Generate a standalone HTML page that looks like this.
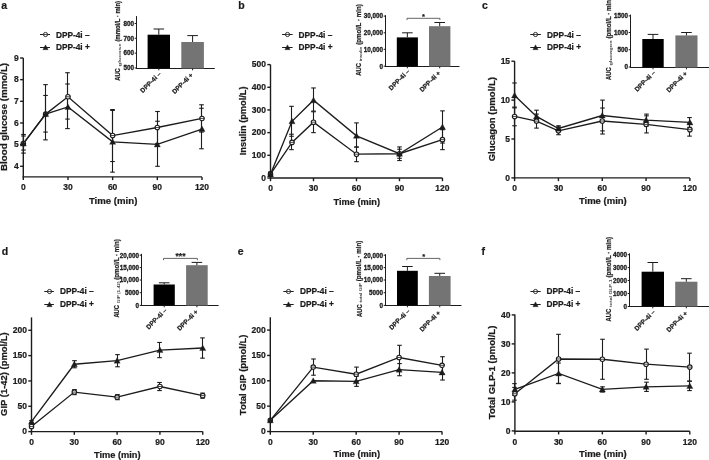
<!DOCTYPE html>
<html><head><meta charset="utf-8"><style>
html,body{margin:0;padding:0;background:#fff;overflow:hidden}
svg{display:block;will-change:transform}
text{font-family:"Liberation Sans", sans-serif;stroke:#1c1c1c;stroke-width:0.22px;paint-order:fill}
</style></head><body>
<svg width="709" height="460" viewBox="0 0 709 460" font-family='"Liberation Sans", sans-serif'>
<rect width="709" height="460" fill="#fff"/>
<line x1="23.3" y1="58" x2="23.3" y2="177.55" stroke="#1c1c1c" stroke-width="1.4"/>
<line x1="22.65" y1="176.9" x2="201.98" y2="176.9" stroke="#1c1c1c" stroke-width="1.4"/>
<line x1="20.1" y1="166.3" x2="23.3" y2="166.3" stroke="#1c1c1c" stroke-width="1.4"/>
<text x="18.8" y="169" font-size="8.5" text-anchor="end" font-weight="bold" fill="#1c1c1c">4</text>
<line x1="20.1" y1="144.64" x2="23.3" y2="144.64" stroke="#1c1c1c" stroke-width="1.4"/>
<text x="18.8" y="147.34" font-size="8.5" text-anchor="end" font-weight="bold" fill="#1c1c1c">5</text>
<line x1="20.1" y1="122.98" x2="23.3" y2="122.98" stroke="#1c1c1c" stroke-width="1.4"/>
<text x="18.8" y="125.68" font-size="8.5" text-anchor="end" font-weight="bold" fill="#1c1c1c">6</text>
<line x1="20.1" y1="101.32" x2="23.3" y2="101.32" stroke="#1c1c1c" stroke-width="1.4"/>
<text x="18.8" y="104.02" font-size="8.5" text-anchor="end" font-weight="bold" fill="#1c1c1c">7</text>
<line x1="20.1" y1="79.66" x2="23.3" y2="79.66" stroke="#1c1c1c" stroke-width="1.4"/>
<text x="18.8" y="82.36" font-size="8.5" text-anchor="end" font-weight="bold" fill="#1c1c1c">8</text>
<line x1="20.1" y1="58" x2="23.3" y2="58" stroke="#1c1c1c" stroke-width="1.4"/>
<text x="18.8" y="60.7" font-size="8.5" text-anchor="end" font-weight="bold" fill="#1c1c1c">9</text>
<line x1="23.3" y1="176.9" x2="23.3" y2="180.1" stroke="#1c1c1c" stroke-width="1.4"/>
<text x="23.3" y="190.3" font-size="8.5" text-anchor="middle" font-weight="bold" fill="#1c1c1c">0</text>
<line x1="67.97" y1="176.9" x2="67.97" y2="180.1" stroke="#1c1c1c" stroke-width="1.4"/>
<text x="67.97" y="190.3" font-size="8.5" text-anchor="middle" font-weight="bold" fill="#1c1c1c">30</text>
<line x1="112.64" y1="176.9" x2="112.64" y2="180.1" stroke="#1c1c1c" stroke-width="1.4"/>
<text x="112.64" y="190.3" font-size="8.5" text-anchor="middle" font-weight="bold" fill="#1c1c1c">60</text>
<line x1="157.31" y1="176.9" x2="157.31" y2="180.1" stroke="#1c1c1c" stroke-width="1.4"/>
<text x="157.31" y="190.3" font-size="8.5" text-anchor="middle" font-weight="bold" fill="#1c1c1c">90</text>
<line x1="201.98" y1="176.9" x2="201.98" y2="180.1" stroke="#1c1c1c" stroke-width="1.4"/>
<text x="201.98" y="190.3" font-size="8.5" text-anchor="middle" font-weight="bold" fill="#1c1c1c">120</text>
<text x="88.9" y="204.1" font-size="8.8" text-anchor="start" font-weight="bold" fill="#1c1c1c" textLength="48.5" lengthAdjust="spacingAndGlyphs">Time (min)</text>
<text x="7.2" y="116.9" font-size="8.6" text-anchor="middle" font-weight="bold" fill="#1c1c1c" transform="rotate(-90 7.2 116.9)" textLength="108" lengthAdjust="spacingAndGlyphs">Blood glucose (mmo/L)</text>
<text x="1.2" y="9.4" font-size="10.5" text-anchor="start" font-weight="bold" fill="#1c1c1c">a</text>
<polyline points="23.3,143.56 45.64,114.1 67.97,96.77 112.64,135.54 157.31,127.53 201.98,118.43" fill="none" stroke="#1c1c1c" stroke-width="1.35" stroke-linejoin="miter"/>
<polyline points="23.3,143.56 45.64,114.1 67.97,106.95 112.64,141.82 157.31,144.42 201.98,129.04" fill="none" stroke="#1c1c1c" stroke-width="1.35" stroke-linejoin="miter"/>
<line x1="23.5" y1="134.46" x2="23.5" y2="153.09" stroke="#1c1c1c" stroke-width="1.1"/>
<line x1="21.2" y1="134.46" x2="25.8" y2="134.46" stroke="#1c1c1c" stroke-width="1.1"/>
<line x1="21.2" y1="153.09" x2="25.8" y2="153.09" stroke="#1c1c1c" stroke-width="1.1"/>
<line x1="45.5" y1="84.64" x2="45.5" y2="139.87" stroke="#1c1c1c" stroke-width="1.1"/>
<line x1="43.2" y1="84.64" x2="47.8" y2="84.64" stroke="#1c1c1c" stroke-width="1.1"/>
<line x1="43.2" y1="139.87" x2="47.8" y2="139.87" stroke="#1c1c1c" stroke-width="1.1"/>
<line x1="67.5" y1="72.73" x2="67.5" y2="119.08" stroke="#1c1c1c" stroke-width="1.1"/>
<line x1="65.2" y1="72.73" x2="69.8" y2="72.73" stroke="#1c1c1c" stroke-width="1.1"/>
<line x1="65.2" y1="119.08" x2="69.8" y2="119.08" stroke="#1c1c1c" stroke-width="1.1"/>
<line x1="112.5" y1="109.55" x2="112.5" y2="161.53" stroke="#1c1c1c" stroke-width="1.1"/>
<line x1="110.2" y1="109.55" x2="114.8" y2="109.55" stroke="#1c1c1c" stroke-width="1.1"/>
<line x1="110.2" y1="161.53" x2="114.8" y2="161.53" stroke="#1c1c1c" stroke-width="1.1"/>
<line x1="157.5" y1="111.5" x2="157.5" y2="143.56" stroke="#1c1c1c" stroke-width="1.1"/>
<line x1="155.2" y1="111.5" x2="159.8" y2="111.5" stroke="#1c1c1c" stroke-width="1.1"/>
<line x1="155.2" y1="143.56" x2="159.8" y2="143.56" stroke="#1c1c1c" stroke-width="1.1"/>
<line x1="201.5" y1="104.79" x2="201.5" y2="132.08" stroke="#1c1c1c" stroke-width="1.1"/>
<line x1="199.2" y1="104.79" x2="203.8" y2="104.79" stroke="#1c1c1c" stroke-width="1.1"/>
<line x1="199.2" y1="132.08" x2="203.8" y2="132.08" stroke="#1c1c1c" stroke-width="1.1"/>
<line x1="23.5" y1="135.98" x2="23.5" y2="150.06" stroke="#1c1c1c" stroke-width="1.1"/>
<line x1="21.2" y1="135.98" x2="25.8" y2="135.98" stroke="#1c1c1c" stroke-width="1.1"/>
<line x1="21.2" y1="150.06" x2="25.8" y2="150.06" stroke="#1c1c1c" stroke-width="1.1"/>
<line x1="45.5" y1="95.47" x2="45.5" y2="132.08" stroke="#1c1c1c" stroke-width="1.1"/>
<line x1="43.2" y1="95.47" x2="47.8" y2="95.47" stroke="#1c1c1c" stroke-width="1.1"/>
<line x1="43.2" y1="132.08" x2="47.8" y2="132.08" stroke="#1c1c1c" stroke-width="1.1"/>
<line x1="67.5" y1="83.99" x2="67.5" y2="128.61" stroke="#1c1c1c" stroke-width="1.1"/>
<line x1="65.2" y1="83.99" x2="69.8" y2="83.99" stroke="#1c1c1c" stroke-width="1.1"/>
<line x1="65.2" y1="128.61" x2="69.8" y2="128.61" stroke="#1c1c1c" stroke-width="1.1"/>
<line x1="112.5" y1="110.42" x2="112.5" y2="172.15" stroke="#1c1c1c" stroke-width="1.1"/>
<line x1="110.2" y1="110.42" x2="114.8" y2="110.42" stroke="#1c1c1c" stroke-width="1.1"/>
<line x1="110.2" y1="172.15" x2="114.8" y2="172.15" stroke="#1c1c1c" stroke-width="1.1"/>
<line x1="157.5" y1="121.25" x2="157.5" y2="166.3" stroke="#1c1c1c" stroke-width="1.1"/>
<line x1="155.2" y1="121.25" x2="159.8" y2="121.25" stroke="#1c1c1c" stroke-width="1.1"/>
<line x1="155.2" y1="166.3" x2="159.8" y2="166.3" stroke="#1c1c1c" stroke-width="1.1"/>
<line x1="201.5" y1="108.25" x2="201.5" y2="148.76" stroke="#1c1c1c" stroke-width="1.1"/>
<line x1="199.2" y1="108.25" x2="203.8" y2="108.25" stroke="#1c1c1c" stroke-width="1.1"/>
<line x1="199.2" y1="148.76" x2="203.8" y2="148.76" stroke="#1c1c1c" stroke-width="1.1"/>
<circle cx="23.3" cy="143.56" r="2.25" fill="#fff" stroke="#1c1c1c" stroke-width="1.1"/>
<line x1="21.05" y1="143.56" x2="25.55" y2="143.56" stroke="#1c1c1c" stroke-width="0.8"/>
<circle cx="45.64" cy="114.1" r="2.25" fill="#fff" stroke="#1c1c1c" stroke-width="1.1"/>
<line x1="43.39" y1="114.1" x2="47.89" y2="114.1" stroke="#1c1c1c" stroke-width="0.8"/>
<circle cx="67.97" cy="96.77" r="2.25" fill="#fff" stroke="#1c1c1c" stroke-width="1.1"/>
<line x1="65.72" y1="96.77" x2="70.22" y2="96.77" stroke="#1c1c1c" stroke-width="0.8"/>
<circle cx="112.64" cy="135.54" r="2.25" fill="#fff" stroke="#1c1c1c" stroke-width="1.1"/>
<line x1="110.39" y1="135.54" x2="114.89" y2="135.54" stroke="#1c1c1c" stroke-width="0.8"/>
<circle cx="157.31" cy="127.53" r="2.25" fill="#fff" stroke="#1c1c1c" stroke-width="1.1"/>
<line x1="155.06" y1="127.53" x2="159.56" y2="127.53" stroke="#1c1c1c" stroke-width="0.8"/>
<circle cx="201.98" cy="118.43" r="2.25" fill="#fff" stroke="#1c1c1c" stroke-width="1.1"/>
<line x1="199.73" y1="118.43" x2="204.23" y2="118.43" stroke="#1c1c1c" stroke-width="0.8"/>
<polygon points="23.3,140.49 20.2,146.07 26.4,146.07" fill="#1c1c1c" stroke="#1c1c1c" stroke-width="0.3"/>
<polygon points="45.64,111.03 42.54,116.61 48.74,116.61" fill="#1c1c1c" stroke="#1c1c1c" stroke-width="0.3"/>
<polygon points="67.97,103.88 64.87,109.46 71.07,109.46" fill="#1c1c1c" stroke="#1c1c1c" stroke-width="0.3"/>
<polygon points="112.64,138.76 109.54,144.34 115.74,144.34" fill="#1c1c1c" stroke="#1c1c1c" stroke-width="0.3"/>
<polygon points="157.31,141.35 154.21,146.93 160.41,146.93" fill="#1c1c1c" stroke="#1c1c1c" stroke-width="0.3"/>
<polygon points="201.98,125.98 198.88,131.56 205.08,131.56" fill="#1c1c1c" stroke="#1c1c1c" stroke-width="0.3"/>
<line x1="40" y1="34.5" x2="50" y2="34.5" stroke="#1c1c1c" stroke-width="1"/>
<circle cx="45.5" cy="34.5" r="2.1" fill="#fff" stroke="#1c1c1c" stroke-width="0.9"/>
<line x1="43.4" y1="34.5" x2="47.6" y2="34.5" stroke="#1c1c1c" stroke-width="0.8"/>
<line x1="40" y1="47.5" x2="50" y2="47.5" stroke="#1c1c1c" stroke-width="1"/>
<polygon points="45.5,44.83 42.8,49.69 48.2,49.69" fill="#1c1c1c" stroke="#1c1c1c" stroke-width="0.3"/>
<text x="55.9" y="37.9" font-size="8.3" text-anchor="start" font-weight="bold" fill="#1c1c1c">DPP-4i –</text>
<text x="55.9" y="50.3" font-size="8.3" text-anchor="start" font-weight="bold" fill="#1c1c1c">DPP-4i +</text>
<line x1="270.5" y1="64.6" x2="270.5" y2="178.65" stroke="#1c1c1c" stroke-width="1.4"/>
<line x1="269.85" y1="178" x2="442.46" y2="178" stroke="#1c1c1c" stroke-width="1.4"/>
<line x1="267.3" y1="178" x2="270.5" y2="178" stroke="#1c1c1c" stroke-width="1.4"/>
<text x="266" y="180.7" font-size="8.5" text-anchor="end" font-weight="bold" fill="#1c1c1c">0</text>
<line x1="267.3" y1="155.32" x2="270.5" y2="155.32" stroke="#1c1c1c" stroke-width="1.4"/>
<text x="266" y="158.02" font-size="8.5" text-anchor="end" font-weight="bold" fill="#1c1c1c">100</text>
<line x1="267.3" y1="132.64" x2="270.5" y2="132.64" stroke="#1c1c1c" stroke-width="1.4"/>
<text x="266" y="135.34" font-size="8.5" text-anchor="end" font-weight="bold" fill="#1c1c1c">200</text>
<line x1="267.3" y1="109.96" x2="270.5" y2="109.96" stroke="#1c1c1c" stroke-width="1.4"/>
<text x="266" y="112.66" font-size="8.5" text-anchor="end" font-weight="bold" fill="#1c1c1c">300</text>
<line x1="267.3" y1="87.28" x2="270.5" y2="87.28" stroke="#1c1c1c" stroke-width="1.4"/>
<text x="266" y="89.98" font-size="8.5" text-anchor="end" font-weight="bold" fill="#1c1c1c">400</text>
<line x1="267.3" y1="64.6" x2="270.5" y2="64.6" stroke="#1c1c1c" stroke-width="1.4"/>
<text x="266" y="67.3" font-size="8.5" text-anchor="end" font-weight="bold" fill="#1c1c1c">500</text>
<line x1="270.5" y1="178" x2="270.5" y2="181.2" stroke="#1c1c1c" stroke-width="1.4"/>
<text x="270.5" y="190.9" font-size="8.5" text-anchor="middle" font-weight="bold" fill="#1c1c1c">0</text>
<line x1="313.49" y1="178" x2="313.49" y2="181.2" stroke="#1c1c1c" stroke-width="1.4"/>
<text x="313.49" y="190.9" font-size="8.5" text-anchor="middle" font-weight="bold" fill="#1c1c1c">30</text>
<line x1="356.48" y1="178" x2="356.48" y2="181.2" stroke="#1c1c1c" stroke-width="1.4"/>
<text x="356.48" y="190.9" font-size="8.5" text-anchor="middle" font-weight="bold" fill="#1c1c1c">60</text>
<line x1="399.47" y1="178" x2="399.47" y2="181.2" stroke="#1c1c1c" stroke-width="1.4"/>
<text x="399.47" y="190.9" font-size="8.5" text-anchor="middle" font-weight="bold" fill="#1c1c1c">90</text>
<line x1="442.46" y1="178" x2="442.46" y2="181.2" stroke="#1c1c1c" stroke-width="1.4"/>
<text x="442.46" y="190.9" font-size="8.5" text-anchor="middle" font-weight="bold" fill="#1c1c1c">120</text>
<text x="333.5" y="204.5" font-size="8.8" text-anchor="start" font-weight="bold" fill="#1c1c1c" textLength="46.6" lengthAdjust="spacingAndGlyphs">Time (min)</text>
<text x="246.1" y="120.8" font-size="8.6" text-anchor="middle" font-weight="bold" fill="#1c1c1c" transform="rotate(-90 246.1 120.8)" textLength="68.8" lengthAdjust="spacingAndGlyphs">Insulin (pmol/L)</text>
<text x="238.3" y="8.8" font-size="10.5" text-anchor="start" font-weight="bold" fill="#1c1c1c">b</text>
<polyline points="270.5,174.14 292,142.39 313.49,122.21 356.48,154.19 399.47,153.73 442.46,139.67" fill="none" stroke="#1c1c1c" stroke-width="1.35" stroke-linejoin="miter"/>
<polyline points="270.5,174.14 292,121.3 313.49,100.21 356.48,135.82 399.47,153.73 442.46,126.97" fill="none" stroke="#1c1c1c" stroke-width="1.35" stroke-linejoin="miter"/>
<line x1="270.5" y1="172.1" x2="270.5" y2="176.19" stroke="#1c1c1c" stroke-width="1.1"/>
<line x1="268.2" y1="172.1" x2="272.8" y2="172.1" stroke="#1c1c1c" stroke-width="1.1"/>
<line x1="268.2" y1="176.19" x2="272.8" y2="176.19" stroke="#1c1c1c" stroke-width="1.1"/>
<line x1="291.5" y1="134.23" x2="291.5" y2="149.65" stroke="#1c1c1c" stroke-width="1.1"/>
<line x1="289.2" y1="134.23" x2="293.8" y2="134.23" stroke="#1c1c1c" stroke-width="1.1"/>
<line x1="289.2" y1="149.65" x2="293.8" y2="149.65" stroke="#1c1c1c" stroke-width="1.1"/>
<line x1="313.5" y1="111.77" x2="313.5" y2="132.64" stroke="#1c1c1c" stroke-width="1.1"/>
<line x1="311.2" y1="111.77" x2="315.8" y2="111.77" stroke="#1c1c1c" stroke-width="1.1"/>
<line x1="311.2" y1="132.64" x2="315.8" y2="132.64" stroke="#1c1c1c" stroke-width="1.1"/>
<line x1="356.5" y1="146.93" x2="356.5" y2="161.67" stroke="#1c1c1c" stroke-width="1.1"/>
<line x1="354.2" y1="146.93" x2="358.8" y2="146.93" stroke="#1c1c1c" stroke-width="1.1"/>
<line x1="354.2" y1="161.67" x2="358.8" y2="161.67" stroke="#1c1c1c" stroke-width="1.1"/>
<line x1="399.5" y1="149.2" x2="399.5" y2="158.27" stroke="#1c1c1c" stroke-width="1.1"/>
<line x1="397.2" y1="149.2" x2="401.8" y2="149.2" stroke="#1c1c1c" stroke-width="1.1"/>
<line x1="397.2" y1="158.27" x2="401.8" y2="158.27" stroke="#1c1c1c" stroke-width="1.1"/>
<line x1="442.5" y1="129.69" x2="442.5" y2="149.65" stroke="#1c1c1c" stroke-width="1.1"/>
<line x1="440.2" y1="129.69" x2="444.8" y2="129.69" stroke="#1c1c1c" stroke-width="1.1"/>
<line x1="440.2" y1="149.65" x2="444.8" y2="149.65" stroke="#1c1c1c" stroke-width="1.1"/>
<line x1="270.5" y1="172.1" x2="270.5" y2="176.19" stroke="#1c1c1c" stroke-width="1.1"/>
<line x1="268.2" y1="172.1" x2="272.8" y2="172.1" stroke="#1c1c1c" stroke-width="1.1"/>
<line x1="268.2" y1="176.19" x2="272.8" y2="176.19" stroke="#1c1c1c" stroke-width="1.1"/>
<line x1="291.5" y1="106.33" x2="291.5" y2="136.27" stroke="#1c1c1c" stroke-width="1.1"/>
<line x1="289.2" y1="106.33" x2="293.8" y2="106.33" stroke="#1c1c1c" stroke-width="1.1"/>
<line x1="289.2" y1="136.27" x2="293.8" y2="136.27" stroke="#1c1c1c" stroke-width="1.1"/>
<line x1="313.5" y1="87.96" x2="313.5" y2="111.09" stroke="#1c1c1c" stroke-width="1.1"/>
<line x1="311.2" y1="87.96" x2="315.8" y2="87.96" stroke="#1c1c1c" stroke-width="1.1"/>
<line x1="311.2" y1="111.09" x2="315.8" y2="111.09" stroke="#1c1c1c" stroke-width="1.1"/>
<line x1="356.5" y1="122.89" x2="356.5" y2="147.16" stroke="#1c1c1c" stroke-width="1.1"/>
<line x1="354.2" y1="122.89" x2="358.8" y2="122.89" stroke="#1c1c1c" stroke-width="1.1"/>
<line x1="354.2" y1="147.16" x2="358.8" y2="147.16" stroke="#1c1c1c" stroke-width="1.1"/>
<line x1="399.5" y1="146.93" x2="399.5" y2="160.54" stroke="#1c1c1c" stroke-width="1.1"/>
<line x1="397.2" y1="146.93" x2="401.8" y2="146.93" stroke="#1c1c1c" stroke-width="1.1"/>
<line x1="397.2" y1="160.54" x2="401.8" y2="160.54" stroke="#1c1c1c" stroke-width="1.1"/>
<line x1="442.5" y1="110.87" x2="442.5" y2="143.07" stroke="#1c1c1c" stroke-width="1.1"/>
<line x1="440.2" y1="110.87" x2="444.8" y2="110.87" stroke="#1c1c1c" stroke-width="1.1"/>
<line x1="440.2" y1="143.07" x2="444.8" y2="143.07" stroke="#1c1c1c" stroke-width="1.1"/>
<circle cx="270.5" cy="174.14" r="2.25" fill="#fff" stroke="#1c1c1c" stroke-width="1.1"/>
<line x1="268.25" y1="174.14" x2="272.75" y2="174.14" stroke="#1c1c1c" stroke-width="0.8"/>
<circle cx="292" cy="142.39" r="2.25" fill="#fff" stroke="#1c1c1c" stroke-width="1.1"/>
<line x1="289.75" y1="142.39" x2="294.25" y2="142.39" stroke="#1c1c1c" stroke-width="0.8"/>
<circle cx="313.49" cy="122.21" r="2.25" fill="#fff" stroke="#1c1c1c" stroke-width="1.1"/>
<line x1="311.24" y1="122.21" x2="315.74" y2="122.21" stroke="#1c1c1c" stroke-width="0.8"/>
<circle cx="356.48" cy="154.19" r="2.25" fill="#fff" stroke="#1c1c1c" stroke-width="1.1"/>
<line x1="354.23" y1="154.19" x2="358.73" y2="154.19" stroke="#1c1c1c" stroke-width="0.8"/>
<circle cx="399.47" cy="153.73" r="2.25" fill="#fff" stroke="#1c1c1c" stroke-width="1.1"/>
<line x1="397.22" y1="153.73" x2="401.72" y2="153.73" stroke="#1c1c1c" stroke-width="0.8"/>
<circle cx="442.46" cy="139.67" r="2.25" fill="#fff" stroke="#1c1c1c" stroke-width="1.1"/>
<line x1="440.21" y1="139.67" x2="444.71" y2="139.67" stroke="#1c1c1c" stroke-width="0.8"/>
<polygon points="270.5,171.08 267.4,176.66 273.6,176.66" fill="#1c1c1c" stroke="#1c1c1c" stroke-width="0.3"/>
<polygon points="292,118.23 288.89,123.81 295.1,123.81" fill="#1c1c1c" stroke="#1c1c1c" stroke-width="0.3"/>
<polygon points="313.49,97.14 310.39,102.72 316.59,102.72" fill="#1c1c1c" stroke="#1c1c1c" stroke-width="0.3"/>
<polygon points="356.48,132.75 353.38,138.33 359.58,138.33" fill="#1c1c1c" stroke="#1c1c1c" stroke-width="0.3"/>
<polygon points="399.47,150.66 396.37,156.24 402.57,156.24" fill="#1c1c1c" stroke="#1c1c1c" stroke-width="0.3"/>
<polygon points="442.46,123.9 439.36,129.48 445.56,129.48" fill="#1c1c1c" stroke="#1c1c1c" stroke-width="0.3"/>
<line x1="282.1" y1="34.5" x2="292.6" y2="34.5" stroke="#1c1c1c" stroke-width="1"/>
<circle cx="287.5" cy="34.5" r="2.1" fill="#fff" stroke="#1c1c1c" stroke-width="0.9"/>
<line x1="285.4" y1="34.5" x2="289.6" y2="34.5" stroke="#1c1c1c" stroke-width="0.8"/>
<line x1="282.1" y1="47.5" x2="292.6" y2="47.5" stroke="#1c1c1c" stroke-width="1"/>
<polygon points="287.5,44.83 284.8,49.69 290.2,49.69" fill="#1c1c1c" stroke="#1c1c1c" stroke-width="0.3"/>
<text x="298.6" y="37.9" font-size="8.3" text-anchor="start" font-weight="bold" fill="#1c1c1c">DPP-4i –</text>
<text x="298.6" y="50.2" font-size="8.3" text-anchor="start" font-weight="bold" fill="#1c1c1c">DPP-4i +</text>
<line x1="514.6" y1="61.1" x2="514.6" y2="178.55" stroke="#1c1c1c" stroke-width="1.4"/>
<line x1="513.95" y1="177.9" x2="689.9" y2="177.9" stroke="#1c1c1c" stroke-width="1.4"/>
<line x1="511.4" y1="177.9" x2="514.6" y2="177.9" stroke="#1c1c1c" stroke-width="1.4"/>
<text x="510.1" y="180.6" font-size="8.5" text-anchor="end" font-weight="bold" fill="#1c1c1c">0</text>
<line x1="511.4" y1="139" x2="514.6" y2="139" stroke="#1c1c1c" stroke-width="1.4"/>
<text x="510.1" y="141.7" font-size="8.5" text-anchor="end" font-weight="bold" fill="#1c1c1c">5</text>
<line x1="511.4" y1="100.1" x2="514.6" y2="100.1" stroke="#1c1c1c" stroke-width="1.4"/>
<text x="510.1" y="102.8" font-size="8.5" text-anchor="end" font-weight="bold" fill="#1c1c1c">10</text>
<line x1="511.4" y1="61.2" x2="514.6" y2="61.2" stroke="#1c1c1c" stroke-width="1.4"/>
<text x="510.1" y="63.9" font-size="8.5" text-anchor="end" font-weight="bold" fill="#1c1c1c">15</text>
<line x1="514.6" y1="177.9" x2="514.6" y2="181.1" stroke="#1c1c1c" stroke-width="1.4"/>
<text x="514.6" y="190.9" font-size="8.5" text-anchor="middle" font-weight="bold" fill="#1c1c1c">0</text>
<line x1="558.42" y1="177.9" x2="558.42" y2="181.1" stroke="#1c1c1c" stroke-width="1.4"/>
<text x="558.42" y="190.9" font-size="8.5" text-anchor="middle" font-weight="bold" fill="#1c1c1c">30</text>
<line x1="602.25" y1="177.9" x2="602.25" y2="181.1" stroke="#1c1c1c" stroke-width="1.4"/>
<text x="602.25" y="190.9" font-size="8.5" text-anchor="middle" font-weight="bold" fill="#1c1c1c">60</text>
<line x1="646.07" y1="177.9" x2="646.07" y2="181.1" stroke="#1c1c1c" stroke-width="1.4"/>
<text x="646.07" y="190.9" font-size="8.5" text-anchor="middle" font-weight="bold" fill="#1c1c1c">90</text>
<line x1="689.9" y1="177.9" x2="689.9" y2="181.1" stroke="#1c1c1c" stroke-width="1.4"/>
<text x="689.9" y="190.9" font-size="8.5" text-anchor="middle" font-weight="bold" fill="#1c1c1c">120</text>
<text x="578.9" y="204.2" font-size="8.8" text-anchor="start" font-weight="bold" fill="#1c1c1c" textLength="47.9" lengthAdjust="spacingAndGlyphs">Time (min)</text>
<text x="494.6" y="119.15" font-size="8.6" text-anchor="middle" font-weight="bold" fill="#1c1c1c" transform="rotate(-90 494.6 119.15)" textLength="84.3" lengthAdjust="spacingAndGlyphs">Glucagon (pmol/L)</text>
<text x="482" y="9.2" font-size="10.5" text-anchor="start" font-weight="bold" fill="#1c1c1c">c</text>
<polyline points="514.6,116.44 536.51,121.11 558.42,130.83 602.25,121.03 646.07,124.37 689.9,129.66" fill="none" stroke="#1c1c1c" stroke-width="1.35" stroke-linejoin="miter"/>
<polyline points="514.6,95.43 536.51,116.44 558.42,128.5 602.25,115.5 646.07,120.09 689.9,122.43" fill="none" stroke="#1c1c1c" stroke-width="1.35" stroke-linejoin="miter"/>
<line x1="514.5" y1="107.1" x2="514.5" y2="125.77" stroke="#1c1c1c" stroke-width="1.1"/>
<line x1="512.2" y1="107.1" x2="516.8" y2="107.1" stroke="#1c1c1c" stroke-width="1.1"/>
<line x1="512.2" y1="125.77" x2="516.8" y2="125.77" stroke="#1c1c1c" stroke-width="1.1"/>
<line x1="536.5" y1="114.1" x2="536.5" y2="128.11" stroke="#1c1c1c" stroke-width="1.1"/>
<line x1="534.2" y1="114.1" x2="538.8" y2="114.1" stroke="#1c1c1c" stroke-width="1.1"/>
<line x1="534.2" y1="128.11" x2="538.8" y2="128.11" stroke="#1c1c1c" stroke-width="1.1"/>
<line x1="558.5" y1="126.94" x2="558.5" y2="134.72" stroke="#1c1c1c" stroke-width="1.1"/>
<line x1="556.2" y1="126.94" x2="560.8" y2="126.94" stroke="#1c1c1c" stroke-width="1.1"/>
<line x1="556.2" y1="134.72" x2="560.8" y2="134.72" stroke="#1c1c1c" stroke-width="1.1"/>
<line x1="602.5" y1="108.04" x2="602.5" y2="134.02" stroke="#1c1c1c" stroke-width="1.1"/>
<line x1="600.2" y1="108.04" x2="604.8" y2="108.04" stroke="#1c1c1c" stroke-width="1.1"/>
<line x1="600.2" y1="134.02" x2="604.8" y2="134.02" stroke="#1c1c1c" stroke-width="1.1"/>
<line x1="646.5" y1="115.82" x2="646.5" y2="132.93" stroke="#1c1c1c" stroke-width="1.1"/>
<line x1="644.2" y1="115.82" x2="648.8" y2="115.82" stroke="#1c1c1c" stroke-width="1.1"/>
<line x1="644.2" y1="132.93" x2="648.8" y2="132.93" stroke="#1c1c1c" stroke-width="1.1"/>
<line x1="689.5" y1="123.21" x2="689.5" y2="136.12" stroke="#1c1c1c" stroke-width="1.1"/>
<line x1="687.2" y1="123.21" x2="691.8" y2="123.21" stroke="#1c1c1c" stroke-width="1.1"/>
<line x1="687.2" y1="136.12" x2="691.8" y2="136.12" stroke="#1c1c1c" stroke-width="1.1"/>
<line x1="514.5" y1="82.98" x2="514.5" y2="107.88" stroke="#1c1c1c" stroke-width="1.1"/>
<line x1="512.2" y1="82.98" x2="516.8" y2="82.98" stroke="#1c1c1c" stroke-width="1.1"/>
<line x1="512.2" y1="107.88" x2="516.8" y2="107.88" stroke="#1c1c1c" stroke-width="1.1"/>
<line x1="536.5" y1="110.21" x2="536.5" y2="122.66" stroke="#1c1c1c" stroke-width="1.1"/>
<line x1="534.2" y1="110.21" x2="538.8" y2="110.21" stroke="#1c1c1c" stroke-width="1.1"/>
<line x1="534.2" y1="122.66" x2="538.8" y2="122.66" stroke="#1c1c1c" stroke-width="1.1"/>
<line x1="558.5" y1="125.77" x2="558.5" y2="131.22" stroke="#1c1c1c" stroke-width="1.1"/>
<line x1="556.2" y1="125.77" x2="560.8" y2="125.77" stroke="#1c1c1c" stroke-width="1.1"/>
<line x1="556.2" y1="131.22" x2="560.8" y2="131.22" stroke="#1c1c1c" stroke-width="1.1"/>
<line x1="602.5" y1="100.1" x2="602.5" y2="130.91" stroke="#1c1c1c" stroke-width="1.1"/>
<line x1="600.2" y1="100.1" x2="604.8" y2="100.1" stroke="#1c1c1c" stroke-width="1.1"/>
<line x1="600.2" y1="130.91" x2="604.8" y2="130.91" stroke="#1c1c1c" stroke-width="1.1"/>
<line x1="646.5" y1="114.1" x2="646.5" y2="126.09" stroke="#1c1c1c" stroke-width="1.1"/>
<line x1="644.2" y1="114.1" x2="648.8" y2="114.1" stroke="#1c1c1c" stroke-width="1.1"/>
<line x1="644.2" y1="126.09" x2="648.8" y2="126.09" stroke="#1c1c1c" stroke-width="1.1"/>
<line x1="689.5" y1="117.53" x2="689.5" y2="127.33" stroke="#1c1c1c" stroke-width="1.1"/>
<line x1="687.2" y1="117.53" x2="691.8" y2="117.53" stroke="#1c1c1c" stroke-width="1.1"/>
<line x1="687.2" y1="127.33" x2="691.8" y2="127.33" stroke="#1c1c1c" stroke-width="1.1"/>
<circle cx="514.6" cy="116.44" r="2.25" fill="#fff" stroke="#1c1c1c" stroke-width="1.1"/>
<line x1="512.35" y1="116.44" x2="516.85" y2="116.44" stroke="#1c1c1c" stroke-width="0.8"/>
<circle cx="536.51" cy="121.11" r="2.25" fill="#fff" stroke="#1c1c1c" stroke-width="1.1"/>
<line x1="534.26" y1="121.11" x2="538.76" y2="121.11" stroke="#1c1c1c" stroke-width="0.8"/>
<circle cx="558.42" cy="130.83" r="2.25" fill="#fff" stroke="#1c1c1c" stroke-width="1.1"/>
<line x1="556.17" y1="130.83" x2="560.67" y2="130.83" stroke="#1c1c1c" stroke-width="0.8"/>
<circle cx="602.25" cy="121.03" r="2.25" fill="#fff" stroke="#1c1c1c" stroke-width="1.1"/>
<line x1="600" y1="121.03" x2="604.5" y2="121.03" stroke="#1c1c1c" stroke-width="0.8"/>
<circle cx="646.07" cy="124.37" r="2.25" fill="#fff" stroke="#1c1c1c" stroke-width="1.1"/>
<line x1="643.82" y1="124.37" x2="648.32" y2="124.37" stroke="#1c1c1c" stroke-width="0.8"/>
<circle cx="689.9" cy="129.66" r="2.25" fill="#fff" stroke="#1c1c1c" stroke-width="1.1"/>
<line x1="687.65" y1="129.66" x2="692.15" y2="129.66" stroke="#1c1c1c" stroke-width="0.8"/>
<polygon points="514.6,92.36 511.5,97.94 517.7,97.94" fill="#1c1c1c" stroke="#1c1c1c" stroke-width="0.3"/>
<polygon points="536.51,113.37 533.41,118.95 539.61,118.95" fill="#1c1c1c" stroke="#1c1c1c" stroke-width="0.3"/>
<polygon points="558.42,125.43 555.32,131.01 561.52,131.01" fill="#1c1c1c" stroke="#1c1c1c" stroke-width="0.3"/>
<polygon points="602.25,112.44 599.15,118.02 605.35,118.02" fill="#1c1c1c" stroke="#1c1c1c" stroke-width="0.3"/>
<polygon points="646.07,117.03 642.97,122.61 649.17,122.61" fill="#1c1c1c" stroke="#1c1c1c" stroke-width="0.3"/>
<polygon points="689.9,119.36 686.8,124.94 693,124.94" fill="#1c1c1c" stroke="#1c1c1c" stroke-width="0.3"/>
<line x1="530.3" y1="34.5" x2="540.9" y2="34.5" stroke="#1c1c1c" stroke-width="1"/>
<circle cx="535.5" cy="34.5" r="2.1" fill="#fff" stroke="#1c1c1c" stroke-width="0.9"/>
<line x1="533.4" y1="34.5" x2="537.6" y2="34.5" stroke="#1c1c1c" stroke-width="0.8"/>
<line x1="530.3" y1="47.5" x2="540.9" y2="47.5" stroke="#1c1c1c" stroke-width="1"/>
<polygon points="535.5,44.83 532.8,49.69 538.2,49.69" fill="#1c1c1c" stroke="#1c1c1c" stroke-width="0.3"/>
<text x="547.1" y="37.7" font-size="8.3" text-anchor="start" font-weight="bold" fill="#1c1c1c">DPP-4i –</text>
<text x="547.1" y="50.3" font-size="8.3" text-anchor="start" font-weight="bold" fill="#1c1c1c">DPP-4i +</text>
<line x1="31.5" y1="317.4" x2="31.5" y2="432.25" stroke="#1c1c1c" stroke-width="1.4"/>
<line x1="30.85" y1="431.6" x2="202.74" y2="431.6" stroke="#1c1c1c" stroke-width="1.4"/>
<line x1="28.3" y1="431.6" x2="31.5" y2="431.6" stroke="#1c1c1c" stroke-width="1.4"/>
<text x="27" y="434.3" font-size="8.5" text-anchor="end" font-weight="bold" fill="#1c1c1c">0</text>
<line x1="28.3" y1="406.28" x2="31.5" y2="406.28" stroke="#1c1c1c" stroke-width="1.4"/>
<text x="27" y="408.98" font-size="8.5" text-anchor="end" font-weight="bold" fill="#1c1c1c">50</text>
<line x1="28.3" y1="380.95" x2="31.5" y2="380.95" stroke="#1c1c1c" stroke-width="1.4"/>
<text x="27" y="383.65" font-size="8.5" text-anchor="end" font-weight="bold" fill="#1c1c1c">100</text>
<line x1="28.3" y1="355.62" x2="31.5" y2="355.62" stroke="#1c1c1c" stroke-width="1.4"/>
<text x="27" y="358.32" font-size="8.5" text-anchor="end" font-weight="bold" fill="#1c1c1c">150</text>
<line x1="28.3" y1="330.3" x2="31.5" y2="330.3" stroke="#1c1c1c" stroke-width="1.4"/>
<text x="27" y="333" font-size="8.5" text-anchor="end" font-weight="bold" fill="#1c1c1c">200</text>
<line x1="31.5" y1="431.6" x2="31.5" y2="434.8" stroke="#1c1c1c" stroke-width="1.4"/>
<text x="31.5" y="444.9" font-size="8.5" text-anchor="middle" font-weight="bold" fill="#1c1c1c">0</text>
<line x1="74.31" y1="431.6" x2="74.31" y2="434.8" stroke="#1c1c1c" stroke-width="1.4"/>
<text x="74.31" y="444.9" font-size="8.5" text-anchor="middle" font-weight="bold" fill="#1c1c1c">30</text>
<line x1="117.12" y1="431.6" x2="117.12" y2="434.8" stroke="#1c1c1c" stroke-width="1.4"/>
<text x="117.12" y="444.9" font-size="8.5" text-anchor="middle" font-weight="bold" fill="#1c1c1c">60</text>
<line x1="159.93" y1="431.6" x2="159.93" y2="434.8" stroke="#1c1c1c" stroke-width="1.4"/>
<text x="159.93" y="444.9" font-size="8.5" text-anchor="middle" font-weight="bold" fill="#1c1c1c">90</text>
<line x1="202.74" y1="431.6" x2="202.74" y2="434.8" stroke="#1c1c1c" stroke-width="1.4"/>
<text x="202.74" y="444.9" font-size="8.5" text-anchor="middle" font-weight="bold" fill="#1c1c1c">120</text>
<text x="93.9" y="457.6" font-size="8.8" text-anchor="start" font-weight="bold" fill="#1c1c1c" textLength="46.7" lengthAdjust="spacingAndGlyphs">Time (min)</text>
<text x="6.9" y="374.1" font-size="8.6" text-anchor="middle" font-weight="bold" fill="#1c1c1c" transform="rotate(-90 6.9 374.1)" textLength="83.6" lengthAdjust="spacingAndGlyphs">GIP (1-42) (pmol/L)</text>
<text x="1.8" y="254.9" font-size="10.5" text-anchor="start" font-weight="bold" fill="#1c1c1c">d</text>
<polyline points="31.5,426.54 74.31,392.09 117.12,397.16 159.93,386.52 202.74,395.64" fill="none" stroke="#1c1c1c" stroke-width="1.35" stroke-linejoin="miter"/>
<polyline points="31.5,421.72 74.31,364.24 117.12,360.69 159.93,350.05 202.74,348.03" fill="none" stroke="#1c1c1c" stroke-width="1.35" stroke-linejoin="miter"/>
<line x1="31.5" y1="425.02" x2="31.5" y2="428.05" stroke="#1c1c1c" stroke-width="1.1"/>
<line x1="29.2" y1="425.02" x2="33.8" y2="425.02" stroke="#1c1c1c" stroke-width="1.1"/>
<line x1="29.2" y1="428.05" x2="33.8" y2="428.05" stroke="#1c1c1c" stroke-width="1.1"/>
<line x1="74.5" y1="389.56" x2="74.5" y2="394.63" stroke="#1c1c1c" stroke-width="1.1"/>
<line x1="72.2" y1="389.56" x2="76.8" y2="389.56" stroke="#1c1c1c" stroke-width="1.1"/>
<line x1="72.2" y1="394.63" x2="76.8" y2="394.63" stroke="#1c1c1c" stroke-width="1.1"/>
<line x1="117.5" y1="394.63" x2="117.5" y2="399.69" stroke="#1c1c1c" stroke-width="1.1"/>
<line x1="115.2" y1="394.63" x2="119.8" y2="394.63" stroke="#1c1c1c" stroke-width="1.1"/>
<line x1="115.2" y1="399.69" x2="119.8" y2="399.69" stroke="#1c1c1c" stroke-width="1.1"/>
<line x1="159.5" y1="382.47" x2="159.5" y2="390.57" stroke="#1c1c1c" stroke-width="1.1"/>
<line x1="157.2" y1="382.47" x2="161.8" y2="382.47" stroke="#1c1c1c" stroke-width="1.1"/>
<line x1="157.2" y1="390.57" x2="161.8" y2="390.57" stroke="#1c1c1c" stroke-width="1.1"/>
<line x1="202.5" y1="393.11" x2="202.5" y2="398.17" stroke="#1c1c1c" stroke-width="1.1"/>
<line x1="200.2" y1="393.11" x2="204.8" y2="393.11" stroke="#1c1c1c" stroke-width="1.1"/>
<line x1="200.2" y1="398.17" x2="204.8" y2="398.17" stroke="#1c1c1c" stroke-width="1.1"/>
<line x1="31.5" y1="420.71" x2="31.5" y2="422.74" stroke="#1c1c1c" stroke-width="1.1"/>
<line x1="29.2" y1="420.71" x2="33.8" y2="420.71" stroke="#1c1c1c" stroke-width="1.1"/>
<line x1="29.2" y1="422.74" x2="33.8" y2="422.74" stroke="#1c1c1c" stroke-width="1.1"/>
<line x1="74.5" y1="360.69" x2="74.5" y2="367.78" stroke="#1c1c1c" stroke-width="1.1"/>
<line x1="72.2" y1="360.69" x2="76.8" y2="360.69" stroke="#1c1c1c" stroke-width="1.1"/>
<line x1="72.2" y1="367.78" x2="76.8" y2="367.78" stroke="#1c1c1c" stroke-width="1.1"/>
<line x1="117.5" y1="354.61" x2="117.5" y2="366.77" stroke="#1c1c1c" stroke-width="1.1"/>
<line x1="115.2" y1="354.61" x2="119.8" y2="354.61" stroke="#1c1c1c" stroke-width="1.1"/>
<line x1="115.2" y1="366.77" x2="119.8" y2="366.77" stroke="#1c1c1c" stroke-width="1.1"/>
<line x1="159.5" y1="342.46" x2="159.5" y2="357.65" stroke="#1c1c1c" stroke-width="1.1"/>
<line x1="157.2" y1="342.46" x2="161.8" y2="342.46" stroke="#1c1c1c" stroke-width="1.1"/>
<line x1="157.2" y1="357.65" x2="161.8" y2="357.65" stroke="#1c1c1c" stroke-width="1.1"/>
<line x1="202.5" y1="337.9" x2="202.5" y2="358.16" stroke="#1c1c1c" stroke-width="1.1"/>
<line x1="200.2" y1="337.9" x2="204.8" y2="337.9" stroke="#1c1c1c" stroke-width="1.1"/>
<line x1="200.2" y1="358.16" x2="204.8" y2="358.16" stroke="#1c1c1c" stroke-width="1.1"/>
<circle cx="31.5" cy="426.54" r="2.25" fill="#fff" stroke="#1c1c1c" stroke-width="1.1"/>
<line x1="29.25" y1="426.54" x2="33.75" y2="426.54" stroke="#1c1c1c" stroke-width="0.8"/>
<circle cx="74.31" cy="392.09" r="2.25" fill="#fff" stroke="#1c1c1c" stroke-width="1.1"/>
<line x1="72.06" y1="392.09" x2="76.56" y2="392.09" stroke="#1c1c1c" stroke-width="0.8"/>
<circle cx="117.12" cy="397.16" r="2.25" fill="#fff" stroke="#1c1c1c" stroke-width="1.1"/>
<line x1="114.87" y1="397.16" x2="119.37" y2="397.16" stroke="#1c1c1c" stroke-width="0.8"/>
<circle cx="159.93" cy="386.52" r="2.25" fill="#fff" stroke="#1c1c1c" stroke-width="1.1"/>
<line x1="157.68" y1="386.52" x2="162.18" y2="386.52" stroke="#1c1c1c" stroke-width="0.8"/>
<circle cx="202.74" cy="395.64" r="2.25" fill="#fff" stroke="#1c1c1c" stroke-width="1.1"/>
<line x1="200.49" y1="395.64" x2="204.99" y2="395.64" stroke="#1c1c1c" stroke-width="0.8"/>
<polygon points="31.5,418.65 28.4,424.23 34.6,424.23" fill="#1c1c1c" stroke="#1c1c1c" stroke-width="0.3"/>
<polygon points="74.31,361.17 71.21,366.75 77.41,366.75" fill="#1c1c1c" stroke="#1c1c1c" stroke-width="0.3"/>
<polygon points="117.12,357.62 114.02,363.2 120.22,363.2" fill="#1c1c1c" stroke="#1c1c1c" stroke-width="0.3"/>
<polygon points="159.93,346.98 156.83,352.56 163.03,352.56" fill="#1c1c1c" stroke="#1c1c1c" stroke-width="0.3"/>
<polygon points="202.74,344.96 199.64,350.54 205.84,350.54" fill="#1c1c1c" stroke="#1c1c1c" stroke-width="0.3"/>
<line x1="44.3" y1="291.5" x2="53.9" y2="291.5" stroke="#1c1c1c" stroke-width="1"/>
<circle cx="49.5" cy="291.5" r="2.1" fill="#fff" stroke="#1c1c1c" stroke-width="0.9"/>
<line x1="47.4" y1="291.5" x2="51.6" y2="291.5" stroke="#1c1c1c" stroke-width="0.8"/>
<line x1="44.3" y1="304.5" x2="53.9" y2="304.5" stroke="#1c1c1c" stroke-width="1"/>
<polygon points="49.5,301.83 46.8,306.69 52.2,306.69" fill="#1c1c1c" stroke="#1c1c1c" stroke-width="0.3"/>
<text x="60" y="294.4" font-size="8.3" text-anchor="start" font-weight="bold" fill="#1c1c1c">DPP-4i –</text>
<text x="60" y="306.6" font-size="8.3" text-anchor="start" font-weight="bold" fill="#1c1c1c">DPP-4i +</text>
<line x1="270.3" y1="317.2" x2="270.3" y2="432.25" stroke="#1c1c1c" stroke-width="1.4"/>
<line x1="269.65" y1="431.6" x2="442.02" y2="431.6" stroke="#1c1c1c" stroke-width="1.4"/>
<line x1="267.1" y1="431.5" x2="270.3" y2="431.5" stroke="#1c1c1c" stroke-width="1.4"/>
<text x="265.8" y="434.2" font-size="8.5" text-anchor="end" font-weight="bold" fill="#1c1c1c">0</text>
<line x1="267.1" y1="406.15" x2="270.3" y2="406.15" stroke="#1c1c1c" stroke-width="1.4"/>
<text x="265.8" y="408.85" font-size="8.5" text-anchor="end" font-weight="bold" fill="#1c1c1c">50</text>
<line x1="267.1" y1="380.8" x2="270.3" y2="380.8" stroke="#1c1c1c" stroke-width="1.4"/>
<text x="265.8" y="383.5" font-size="8.5" text-anchor="end" font-weight="bold" fill="#1c1c1c">100</text>
<line x1="267.1" y1="355.45" x2="270.3" y2="355.45" stroke="#1c1c1c" stroke-width="1.4"/>
<text x="265.8" y="358.15" font-size="8.5" text-anchor="end" font-weight="bold" fill="#1c1c1c">150</text>
<line x1="267.1" y1="330.1" x2="270.3" y2="330.1" stroke="#1c1c1c" stroke-width="1.4"/>
<text x="265.8" y="332.8" font-size="8.5" text-anchor="end" font-weight="bold" fill="#1c1c1c">200</text>
<line x1="270.3" y1="431.6" x2="270.3" y2="434.8" stroke="#1c1c1c" stroke-width="1.4"/>
<text x="270.3" y="444.9" font-size="8.5" text-anchor="middle" font-weight="bold" fill="#1c1c1c">0</text>
<line x1="313.23" y1="431.6" x2="313.23" y2="434.8" stroke="#1c1c1c" stroke-width="1.4"/>
<text x="313.23" y="444.9" font-size="8.5" text-anchor="middle" font-weight="bold" fill="#1c1c1c">30</text>
<line x1="356.16" y1="431.6" x2="356.16" y2="434.8" stroke="#1c1c1c" stroke-width="1.4"/>
<text x="356.16" y="444.9" font-size="8.5" text-anchor="middle" font-weight="bold" fill="#1c1c1c">60</text>
<line x1="399.09" y1="431.6" x2="399.09" y2="434.8" stroke="#1c1c1c" stroke-width="1.4"/>
<text x="399.09" y="444.9" font-size="8.5" text-anchor="middle" font-weight="bold" fill="#1c1c1c">90</text>
<line x1="442.02" y1="431.6" x2="442.02" y2="434.8" stroke="#1c1c1c" stroke-width="1.4"/>
<text x="442.02" y="444.9" font-size="8.5" text-anchor="middle" font-weight="bold" fill="#1c1c1c">120</text>
<text x="333.5" y="457.4" font-size="8.8" text-anchor="start" font-weight="bold" fill="#1c1c1c" textLength="46.6" lengthAdjust="spacingAndGlyphs">Time (min)</text>
<text x="246.2" y="374.85" font-size="8.6" text-anchor="middle" font-weight="bold" fill="#1c1c1c" transform="rotate(-90 246.2 374.85)" textLength="80.7" lengthAdjust="spacingAndGlyphs">Total GIP (pmol/L)</text>
<text x="237.8" y="255.3" font-size="10.5" text-anchor="start" font-weight="bold" fill="#1c1c1c">e</text>
<polyline points="270.3,420.35 313.23,367.11 356.16,374.21 399.09,357.48 442.02,365.34" fill="none" stroke="#1c1c1c" stroke-width="1.35" stroke-linejoin="miter"/>
<polyline points="270.3,420.35 313.23,380.8 356.16,381.31 399.09,369.65 442.02,372.43" fill="none" stroke="#1c1c1c" stroke-width="1.35" stroke-linejoin="miter"/>
<line x1="313.5" y1="359" x2="313.5" y2="375.22" stroke="#1c1c1c" stroke-width="1.1"/>
<line x1="311.2" y1="359" x2="315.8" y2="359" stroke="#1c1c1c" stroke-width="1.1"/>
<line x1="311.2" y1="375.22" x2="315.8" y2="375.22" stroke="#1c1c1c" stroke-width="1.1"/>
<line x1="356.5" y1="367.11" x2="356.5" y2="381.31" stroke="#1c1c1c" stroke-width="1.1"/>
<line x1="354.2" y1="367.11" x2="358.8" y2="367.11" stroke="#1c1c1c" stroke-width="1.1"/>
<line x1="354.2" y1="381.31" x2="358.8" y2="381.31" stroke="#1c1c1c" stroke-width="1.1"/>
<line x1="399.5" y1="345.31" x2="399.5" y2="369.65" stroke="#1c1c1c" stroke-width="1.1"/>
<line x1="397.2" y1="345.31" x2="401.8" y2="345.31" stroke="#1c1c1c" stroke-width="1.1"/>
<line x1="397.2" y1="369.65" x2="401.8" y2="369.65" stroke="#1c1c1c" stroke-width="1.1"/>
<line x1="442.5" y1="356.72" x2="442.5" y2="373.96" stroke="#1c1c1c" stroke-width="1.1"/>
<line x1="440.2" y1="356.72" x2="444.8" y2="356.72" stroke="#1c1c1c" stroke-width="1.1"/>
<line x1="440.2" y1="373.96" x2="444.8" y2="373.96" stroke="#1c1c1c" stroke-width="1.1"/>
<line x1="356.5" y1="376.24" x2="356.5" y2="386.38" stroke="#1c1c1c" stroke-width="1.1"/>
<line x1="354.2" y1="376.24" x2="358.8" y2="376.24" stroke="#1c1c1c" stroke-width="1.1"/>
<line x1="354.2" y1="386.38" x2="358.8" y2="386.38" stroke="#1c1c1c" stroke-width="1.1"/>
<line x1="399.5" y1="363.56" x2="399.5" y2="375.73" stroke="#1c1c1c" stroke-width="1.1"/>
<line x1="397.2" y1="363.56" x2="401.8" y2="363.56" stroke="#1c1c1c" stroke-width="1.1"/>
<line x1="397.2" y1="375.73" x2="401.8" y2="375.73" stroke="#1c1c1c" stroke-width="1.1"/>
<line x1="442.5" y1="364.83" x2="442.5" y2="380.04" stroke="#1c1c1c" stroke-width="1.1"/>
<line x1="440.2" y1="364.83" x2="444.8" y2="364.83" stroke="#1c1c1c" stroke-width="1.1"/>
<line x1="440.2" y1="380.04" x2="444.8" y2="380.04" stroke="#1c1c1c" stroke-width="1.1"/>
<circle cx="270.3" cy="420.35" r="2.25" fill="#fff" stroke="#1c1c1c" stroke-width="1.1"/>
<line x1="268.05" y1="420.35" x2="272.55" y2="420.35" stroke="#1c1c1c" stroke-width="0.8"/>
<circle cx="313.23" cy="367.11" r="2.25" fill="#fff" stroke="#1c1c1c" stroke-width="1.1"/>
<line x1="310.98" y1="367.11" x2="315.48" y2="367.11" stroke="#1c1c1c" stroke-width="0.8"/>
<circle cx="356.16" cy="374.21" r="2.25" fill="#fff" stroke="#1c1c1c" stroke-width="1.1"/>
<line x1="353.91" y1="374.21" x2="358.41" y2="374.21" stroke="#1c1c1c" stroke-width="0.8"/>
<circle cx="399.09" cy="357.48" r="2.25" fill="#fff" stroke="#1c1c1c" stroke-width="1.1"/>
<line x1="396.84" y1="357.48" x2="401.34" y2="357.48" stroke="#1c1c1c" stroke-width="0.8"/>
<circle cx="442.02" cy="365.34" r="2.25" fill="#fff" stroke="#1c1c1c" stroke-width="1.1"/>
<line x1="439.77" y1="365.34" x2="444.27" y2="365.34" stroke="#1c1c1c" stroke-width="0.8"/>
<polygon points="270.3,417.28 267.2,422.86 273.4,422.86" fill="#1c1c1c" stroke="#1c1c1c" stroke-width="0.3"/>
<polygon points="313.23,377.73 310.13,383.31 316.33,383.31" fill="#1c1c1c" stroke="#1c1c1c" stroke-width="0.3"/>
<polygon points="356.16,378.24 353.06,383.82 359.26,383.82" fill="#1c1c1c" stroke="#1c1c1c" stroke-width="0.3"/>
<polygon points="399.09,366.58 395.99,372.16 402.19,372.16" fill="#1c1c1c" stroke="#1c1c1c" stroke-width="0.3"/>
<polygon points="442.02,369.37 438.92,374.95 445.12,374.95" fill="#1c1c1c" stroke="#1c1c1c" stroke-width="0.3"/>
<line x1="283.3" y1="291.5" x2="293.7" y2="291.5" stroke="#1c1c1c" stroke-width="1"/>
<circle cx="288.5" cy="291.5" r="2.1" fill="#fff" stroke="#1c1c1c" stroke-width="0.9"/>
<line x1="286.4" y1="291.5" x2="290.6" y2="291.5" stroke="#1c1c1c" stroke-width="0.8"/>
<line x1="283.3" y1="304.5" x2="293.7" y2="304.5" stroke="#1c1c1c" stroke-width="1"/>
<polygon points="288.5,301.83 285.8,306.69 291.2,306.69" fill="#1c1c1c" stroke="#1c1c1c" stroke-width="0.3"/>
<text x="300" y="294.4" font-size="8.3" text-anchor="start" font-weight="bold" fill="#1c1c1c">DPP-4i –</text>
<text x="300" y="306.6" font-size="8.3" text-anchor="start" font-weight="bold" fill="#1c1c1c">DPP-4i +</text>
<line x1="514.9" y1="314.5" x2="514.9" y2="431.85" stroke="#1c1c1c" stroke-width="1.4"/>
<line x1="514.25" y1="431.2" x2="689.8" y2="431.2" stroke="#1c1c1c" stroke-width="1.4"/>
<line x1="511.7" y1="430.9" x2="514.9" y2="430.9" stroke="#1c1c1c" stroke-width="1.4"/>
<text x="510.4" y="433.6" font-size="8.5" text-anchor="end" font-weight="bold" fill="#1c1c1c">0</text>
<line x1="511.7" y1="401.9" x2="514.9" y2="401.9" stroke="#1c1c1c" stroke-width="1.4"/>
<text x="510.4" y="404.6" font-size="8.5" text-anchor="end" font-weight="bold" fill="#1c1c1c">10</text>
<line x1="511.7" y1="372.9" x2="514.9" y2="372.9" stroke="#1c1c1c" stroke-width="1.4"/>
<text x="510.4" y="375.6" font-size="8.5" text-anchor="end" font-weight="bold" fill="#1c1c1c">20</text>
<line x1="511.7" y1="343.9" x2="514.9" y2="343.9" stroke="#1c1c1c" stroke-width="1.4"/>
<text x="510.4" y="346.6" font-size="8.5" text-anchor="end" font-weight="bold" fill="#1c1c1c">30</text>
<line x1="511.7" y1="314.9" x2="514.9" y2="314.9" stroke="#1c1c1c" stroke-width="1.4"/>
<text x="510.4" y="317.6" font-size="8.5" text-anchor="end" font-weight="bold" fill="#1c1c1c">40</text>
<line x1="514.9" y1="431.2" x2="514.9" y2="434.4" stroke="#1c1c1c" stroke-width="1.4"/>
<text x="514.9" y="444.5" font-size="8.5" text-anchor="middle" font-weight="bold" fill="#1c1c1c">0</text>
<line x1="558.62" y1="431.2" x2="558.62" y2="434.4" stroke="#1c1c1c" stroke-width="1.4"/>
<text x="558.62" y="444.5" font-size="8.5" text-anchor="middle" font-weight="bold" fill="#1c1c1c">30</text>
<line x1="602.35" y1="431.2" x2="602.35" y2="434.4" stroke="#1c1c1c" stroke-width="1.4"/>
<text x="602.35" y="444.5" font-size="8.5" text-anchor="middle" font-weight="bold" fill="#1c1c1c">60</text>
<line x1="646.08" y1="431.2" x2="646.08" y2="434.4" stroke="#1c1c1c" stroke-width="1.4"/>
<text x="646.08" y="444.5" font-size="8.5" text-anchor="middle" font-weight="bold" fill="#1c1c1c">90</text>
<line x1="689.8" y1="431.2" x2="689.8" y2="434.4" stroke="#1c1c1c" stroke-width="1.4"/>
<text x="689.8" y="444.5" font-size="8.5" text-anchor="middle" font-weight="bold" fill="#1c1c1c">120</text>
<text x="578.9" y="457.4" font-size="8.8" text-anchor="start" font-weight="bold" fill="#1c1c1c" textLength="47.9" lengthAdjust="spacingAndGlyphs">Time (min)</text>
<text x="494.7" y="372.4" font-size="8.6" text-anchor="middle" font-weight="bold" fill="#1c1c1c" transform="rotate(-90 494.7 372.4)" textLength="93.6" lengthAdjust="spacingAndGlyphs">Total GLP-1 (pmol/L)</text>
<text x="481.5" y="255.3" font-size="10.5" text-anchor="start" font-weight="bold" fill="#1c1c1c">f</text>
<polyline points="514.9,393.78 558.62,358.98 602.35,359.27 646.08,364.2 689.8,367.1" fill="none" stroke="#1c1c1c" stroke-width="1.35" stroke-linejoin="miter"/>
<polyline points="514.9,389.43 558.62,373.48 602.35,389.43 646.08,386.82 689.8,385.95" fill="none" stroke="#1c1c1c" stroke-width="1.35" stroke-linejoin="miter"/>
<line x1="514.5" y1="387.4" x2="514.5" y2="400.16" stroke="#1c1c1c" stroke-width="1.1"/>
<line x1="512.2" y1="387.4" x2="516.8" y2="387.4" stroke="#1c1c1c" stroke-width="1.1"/>
<line x1="512.2" y1="400.16" x2="516.8" y2="400.16" stroke="#1c1c1c" stroke-width="1.1"/>
<line x1="558.5" y1="334.33" x2="558.5" y2="383.63" stroke="#1c1c1c" stroke-width="1.1"/>
<line x1="556.2" y1="334.33" x2="560.8" y2="334.33" stroke="#1c1c1c" stroke-width="1.1"/>
<line x1="556.2" y1="383.63" x2="560.8" y2="383.63" stroke="#1c1c1c" stroke-width="1.1"/>
<line x1="602.5" y1="339.26" x2="602.5" y2="379.28" stroke="#1c1c1c" stroke-width="1.1"/>
<line x1="600.2" y1="339.26" x2="604.8" y2="339.26" stroke="#1c1c1c" stroke-width="1.1"/>
<line x1="600.2" y1="379.28" x2="604.8" y2="379.28" stroke="#1c1c1c" stroke-width="1.1"/>
<line x1="646.5" y1="349.12" x2="646.5" y2="379.28" stroke="#1c1c1c" stroke-width="1.1"/>
<line x1="644.2" y1="349.12" x2="648.8" y2="349.12" stroke="#1c1c1c" stroke-width="1.1"/>
<line x1="644.2" y1="379.28" x2="648.8" y2="379.28" stroke="#1c1c1c" stroke-width="1.1"/>
<line x1="689.5" y1="353.18" x2="689.5" y2="381.02" stroke="#1c1c1c" stroke-width="1.1"/>
<line x1="687.2" y1="353.18" x2="691.8" y2="353.18" stroke="#1c1c1c" stroke-width="1.1"/>
<line x1="687.2" y1="381.02" x2="691.8" y2="381.02" stroke="#1c1c1c" stroke-width="1.1"/>
<line x1="514.5" y1="383.63" x2="514.5" y2="395.23" stroke="#1c1c1c" stroke-width="1.1"/>
<line x1="512.2" y1="383.63" x2="516.8" y2="383.63" stroke="#1c1c1c" stroke-width="1.1"/>
<line x1="512.2" y1="395.23" x2="516.8" y2="395.23" stroke="#1c1c1c" stroke-width="1.1"/>
<line x1="558.5" y1="363.04" x2="558.5" y2="383.34" stroke="#1c1c1c" stroke-width="1.1"/>
<line x1="556.2" y1="363.04" x2="560.8" y2="363.04" stroke="#1c1c1c" stroke-width="1.1"/>
<line x1="556.2" y1="383.34" x2="560.8" y2="383.34" stroke="#1c1c1c" stroke-width="1.1"/>
<line x1="602.5" y1="386.82" x2="602.5" y2="392.04" stroke="#1c1c1c" stroke-width="1.1"/>
<line x1="600.2" y1="386.82" x2="604.8" y2="386.82" stroke="#1c1c1c" stroke-width="1.1"/>
<line x1="600.2" y1="392.04" x2="604.8" y2="392.04" stroke="#1c1c1c" stroke-width="1.1"/>
<line x1="646.5" y1="382.18" x2="646.5" y2="391.46" stroke="#1c1c1c" stroke-width="1.1"/>
<line x1="644.2" y1="382.18" x2="648.8" y2="382.18" stroke="#1c1c1c" stroke-width="1.1"/>
<line x1="644.2" y1="391.46" x2="648.8" y2="391.46" stroke="#1c1c1c" stroke-width="1.1"/>
<line x1="689.5" y1="381.31" x2="689.5" y2="390.59" stroke="#1c1c1c" stroke-width="1.1"/>
<line x1="687.2" y1="381.31" x2="691.8" y2="381.31" stroke="#1c1c1c" stroke-width="1.1"/>
<line x1="687.2" y1="390.59" x2="691.8" y2="390.59" stroke="#1c1c1c" stroke-width="1.1"/>
<circle cx="514.9" cy="393.78" r="2.25" fill="#fff" stroke="#1c1c1c" stroke-width="1.1"/>
<line x1="512.65" y1="393.78" x2="517.15" y2="393.78" stroke="#1c1c1c" stroke-width="0.8"/>
<circle cx="558.62" cy="358.98" r="2.25" fill="#fff" stroke="#1c1c1c" stroke-width="1.1"/>
<line x1="556.38" y1="358.98" x2="560.88" y2="358.98" stroke="#1c1c1c" stroke-width="0.8"/>
<circle cx="602.35" cy="359.27" r="2.25" fill="#fff" stroke="#1c1c1c" stroke-width="1.1"/>
<line x1="600.1" y1="359.27" x2="604.6" y2="359.27" stroke="#1c1c1c" stroke-width="0.8"/>
<circle cx="646.08" cy="364.2" r="2.25" fill="#fff" stroke="#1c1c1c" stroke-width="1.1"/>
<line x1="643.83" y1="364.2" x2="648.33" y2="364.2" stroke="#1c1c1c" stroke-width="0.8"/>
<circle cx="689.8" cy="367.1" r="2.25" fill="#fff" stroke="#1c1c1c" stroke-width="1.1"/>
<line x1="687.55" y1="367.1" x2="692.05" y2="367.1" stroke="#1c1c1c" stroke-width="0.8"/>
<polygon points="514.9,386.36 511.8,391.94 518,391.94" fill="#1c1c1c" stroke="#1c1c1c" stroke-width="0.3"/>
<polygon points="558.62,370.41 555.52,375.99 561.73,375.99" fill="#1c1c1c" stroke="#1c1c1c" stroke-width="0.3"/>
<polygon points="602.35,386.36 599.25,391.94 605.45,391.94" fill="#1c1c1c" stroke="#1c1c1c" stroke-width="0.3"/>
<polygon points="646.08,383.75 642.98,389.33 649.18,389.33" fill="#1c1c1c" stroke="#1c1c1c" stroke-width="0.3"/>
<polygon points="689.8,382.88 686.7,388.46 692.9,388.46" fill="#1c1c1c" stroke="#1c1c1c" stroke-width="0.3"/>
<line x1="530.4" y1="291.5" x2="540.7" y2="291.5" stroke="#1c1c1c" stroke-width="1"/>
<circle cx="535.5" cy="291.5" r="2.1" fill="#fff" stroke="#1c1c1c" stroke-width="0.9"/>
<line x1="533.4" y1="291.5" x2="537.6" y2="291.5" stroke="#1c1c1c" stroke-width="0.8"/>
<line x1="530.4" y1="304.5" x2="540.7" y2="304.5" stroke="#1c1c1c" stroke-width="1"/>
<polygon points="535.5,301.83 532.8,306.69 538.2,306.69" fill="#1c1c1c" stroke="#1c1c1c" stroke-width="0.3"/>
<text x="546.5" y="294.4" font-size="8.3" text-anchor="start" font-weight="bold" fill="#1c1c1c">DPP-4i –</text>
<text x="546.5" y="306.9" font-size="8.3" text-anchor="start" font-weight="bold" fill="#1c1c1c">DPP-4i +</text>
<line x1="136.5" y1="16.1" x2="136.5" y2="68.95" stroke="#1c1c1c" stroke-width="1"/>
<line x1="136.05" y1="68.5" x2="214.8" y2="68.5" stroke="#1c1c1c" stroke-width="1"/>
<line x1="134.7" y1="23.5" x2="136.5" y2="23.5" stroke="#1c1c1c" stroke-width="1"/>
<text x="134.1" y="25.8" font-size="6.3" text-anchor="end" font-weight="bold" fill="#1c1c1c" style="stroke-width:0.3px">800</text>
<line x1="134.7" y1="38.3" x2="136.5" y2="38.3" stroke="#1c1c1c" stroke-width="1"/>
<text x="134.1" y="40.6" font-size="6.3" text-anchor="end" font-weight="bold" fill="#1c1c1c" style="stroke-width:0.3px">700</text>
<line x1="134.7" y1="53.1" x2="136.5" y2="53.1" stroke="#1c1c1c" stroke-width="1"/>
<text x="134.1" y="55.4" font-size="6.3" text-anchor="end" font-weight="bold" fill="#1c1c1c" style="stroke-width:0.3px">600</text>
<line x1="134.7" y1="68" x2="136.5" y2="68" stroke="#1c1c1c" stroke-width="1"/>
<text x="134.1" y="70.3" font-size="6.3" text-anchor="end" font-weight="bold" fill="#1c1c1c" style="stroke-width:0.3px">500</text>
<rect x="147.6" y="34.7" width="22.4" height="33.8" fill="#000"/>
<line x1="158.8" y1="29" x2="158.8" y2="34.7" stroke="#1c1c1c" stroke-width="1"/>
<line x1="153.5" y1="29" x2="164.1" y2="29" stroke="#1c1c1c" stroke-width="1"/>
<line x1="158.8" y1="68.5" x2="158.8" y2="70.3" stroke="#1c1c1c" stroke-width="1"/>
<rect x="181.3" y="42" width="22.6" height="26.5" fill="#747474"/>
<line x1="192.6" y1="35.6" x2="192.6" y2="42" stroke="#1c1c1c" stroke-width="1"/>
<line x1="187.3" y1="35.6" x2="197.9" y2="35.6" stroke="#1c1c1c" stroke-width="1"/>
<line x1="192.6" y1="68.5" x2="192.6" y2="70.3" stroke="#1c1c1c" stroke-width="1"/>
<text x="161.5" y="74.5" font-size="6.5" text-anchor="end" font-weight="bold" fill="#1c1c1c" transform="rotate(-45 161.5 74.5)">DPP-4i –</text>
<text x="193.5" y="75.5" font-size="6.5" text-anchor="end" font-weight="bold" fill="#1c1c1c" transform="rotate(-45 193.5 75.5)">DPP-4i +</text>
<text x="120" y="80.8" font-size="6.5" text-anchor="start" font-weight="bold" fill="#1c1c1c" transform="rotate(-90 120 80.8)" textLength="12.6" lengthAdjust="spacingAndGlyphs">AUC</text>
<text x="120" y="0.9" font-size="6.5" text-anchor="end" font-weight="bold" fill="#1c1c1c" transform="rotate(-90 120 0.9)" textLength="40.7" lengthAdjust="spacingAndGlyphs">(mmol/L · min)</text>
<text x="121" y="54.9" font-size="4.4" text-anchor="middle" font-weight="bold" fill="#444" transform="rotate(-90 121 54.9)" textLength="23" lengthAdjust="spacingAndGlyphs" style="stroke:none">glucose</text>
<line x1="385.5" y1="15.2" x2="385.5" y2="66.95" stroke="#1c1c1c" stroke-width="1"/>
<line x1="385.05" y1="66.5" x2="459.5" y2="66.5" stroke="#1c1c1c" stroke-width="1"/>
<line x1="383.7" y1="16.1" x2="385.5" y2="16.1" stroke="#1c1c1c" stroke-width="1"/>
<text x="383.1" y="18.4" font-size="6.3" text-anchor="end" font-weight="bold" fill="#1c1c1c" style="stroke-width:0.3px">30,000</text>
<line x1="383.7" y1="32.8" x2="385.5" y2="32.8" stroke="#1c1c1c" stroke-width="1"/>
<text x="383.1" y="35.1" font-size="6.3" text-anchor="end" font-weight="bold" fill="#1c1c1c" style="stroke-width:0.3px">20,000</text>
<line x1="383.7" y1="49.3" x2="385.5" y2="49.3" stroke="#1c1c1c" stroke-width="1"/>
<text x="383.1" y="51.6" font-size="6.3" text-anchor="end" font-weight="bold" fill="#1c1c1c" style="stroke-width:0.3px">10,000</text>
<line x1="383.7" y1="66.2" x2="385.5" y2="66.2" stroke="#1c1c1c" stroke-width="1"/>
<text x="383.1" y="68.5" font-size="6.3" text-anchor="end" font-weight="bold" fill="#1c1c1c" style="stroke-width:0.3px">0</text>
<rect x="396.8" y="37.4" width="21.1" height="29.1" fill="#000"/>
<line x1="407.35" y1="32.8" x2="407.35" y2="37.4" stroke="#1c1c1c" stroke-width="1"/>
<line x1="402.05" y1="32.8" x2="412.65" y2="32.8" stroke="#1c1c1c" stroke-width="1"/>
<line x1="407.35" y1="66.5" x2="407.35" y2="68.3" stroke="#1c1c1c" stroke-width="1"/>
<rect x="429" y="26.2" width="21.4" height="40.3" fill="#747474"/>
<line x1="439.7" y1="22.5" x2="439.7" y2="26.2" stroke="#1c1c1c" stroke-width="1"/>
<line x1="434.4" y1="22.5" x2="445" y2="22.5" stroke="#1c1c1c" stroke-width="1"/>
<line x1="439.7" y1="66.5" x2="439.7" y2="68.3" stroke="#1c1c1c" stroke-width="1"/>
<text x="410" y="72" font-size="6.5" text-anchor="end" font-weight="bold" fill="#1c1c1c" transform="rotate(-45 410 72)">DPP-4i –</text>
<text x="441" y="73.5" font-size="6.5" text-anchor="end" font-weight="bold" fill="#1c1c1c" transform="rotate(-45 441 73.5)">DPP-4i +</text>
<text x="361.3" y="75.7" font-size="6.5" text-anchor="start" font-weight="bold" fill="#1c1c1c" transform="rotate(-90 361.3 75.7)" textLength="12.6" lengthAdjust="spacingAndGlyphs">AUC</text>
<text x="361.3" y="4.3" font-size="6.5" text-anchor="end" font-weight="bold" fill="#1c1c1c" transform="rotate(-90 361.3 4.3)" textLength="40.5" lengthAdjust="spacingAndGlyphs">(pmol/L · min)</text>
<text x="362.3" y="53.95" font-size="4.4" text-anchor="middle" font-weight="bold" fill="#444" transform="rotate(-90 362.3 53.95)" textLength="14.7" lengthAdjust="spacingAndGlyphs" style="stroke:none">insulin</text>
<polyline points="407,20.1 407,18.3 439.9,18.3 439.9,20.1" fill="none" stroke="#555" stroke-width="0.9"/>
<text x="423.4" y="19" font-size="7.5" text-anchor="middle" font-weight="bold" fill="#1c1c1c">*</text>
<line x1="630.5" y1="14.6" x2="630.5" y2="67.95" stroke="#1c1c1c" stroke-width="1"/>
<line x1="630.05" y1="67.5" x2="709" y2="67.5" stroke="#1c1c1c" stroke-width="1"/>
<line x1="628.7" y1="15.9" x2="630.5" y2="15.9" stroke="#1c1c1c" stroke-width="1"/>
<text x="628.1" y="18.2" font-size="6.3" text-anchor="end" font-weight="bold" fill="#1c1c1c" style="stroke-width:0.3px">1500</text>
<line x1="628.7" y1="32.5" x2="630.5" y2="32.5" stroke="#1c1c1c" stroke-width="1"/>
<text x="628.1" y="34.8" font-size="6.3" text-anchor="end" font-weight="bold" fill="#1c1c1c" style="stroke-width:0.3px">1000</text>
<line x1="628.7" y1="49.7" x2="630.5" y2="49.7" stroke="#1c1c1c" stroke-width="1"/>
<text x="628.1" y="52" font-size="6.3" text-anchor="end" font-weight="bold" fill="#1c1c1c" style="stroke-width:0.3px">500</text>
<line x1="628.7" y1="67" x2="630.5" y2="67" stroke="#1c1c1c" stroke-width="1"/>
<text x="628.1" y="69.3" font-size="6.3" text-anchor="end" font-weight="bold" fill="#1c1c1c" style="stroke-width:0.3px">0</text>
<rect x="642.3" y="39" width="21.4" height="28.5" fill="#000"/>
<line x1="653" y1="34.4" x2="653" y2="39" stroke="#1c1c1c" stroke-width="1"/>
<line x1="647.7" y1="34.4" x2="658.3" y2="34.4" stroke="#1c1c1c" stroke-width="1"/>
<line x1="653" y1="67.5" x2="653" y2="69.3" stroke="#1c1c1c" stroke-width="1"/>
<rect x="675.4" y="35.4" width="22.1" height="32.1" fill="#747474"/>
<line x1="686.45" y1="32.5" x2="686.45" y2="35.4" stroke="#1c1c1c" stroke-width="1"/>
<line x1="681.15" y1="32.5" x2="691.75" y2="32.5" stroke="#1c1c1c" stroke-width="1"/>
<line x1="686.45" y1="67.5" x2="686.45" y2="69.3" stroke="#1c1c1c" stroke-width="1"/>
<text x="655.8" y="73.3" font-size="6.5" text-anchor="end" font-weight="bold" fill="#1c1c1c" transform="rotate(-45 655.8 73.3)">DPP-4i –</text>
<text x="687.8" y="74" font-size="6.5" text-anchor="end" font-weight="bold" fill="#1c1c1c" transform="rotate(-45 687.8 74)">DPP-4i +</text>
<text x="611.2" y="80" font-size="6.5" text-anchor="start" font-weight="bold" fill="#1c1c1c" transform="rotate(-90 611.2 80)" textLength="12.6" lengthAdjust="spacingAndGlyphs">AUC</text>
<text x="611.2" y="-2" font-size="6.5" text-anchor="end" font-weight="bold" fill="#1c1c1c" transform="rotate(-90 611.2 -2)" textLength="40.5" lengthAdjust="spacingAndGlyphs">(pmol/L · min)</text>
<text x="612.2" y="52.95" font-size="4.4" text-anchor="middle" font-weight="bold" fill="#444" transform="rotate(-90 612.2 52.95)" textLength="25.3" lengthAdjust="spacingAndGlyphs" style="stroke:none">glucagon</text>
<line x1="141.5" y1="253.8" x2="141.5" y2="305.95" stroke="#1c1c1c" stroke-width="1"/>
<line x1="141.05" y1="305.5" x2="218.6" y2="305.5" stroke="#1c1c1c" stroke-width="1"/>
<line x1="139.7" y1="255.2" x2="141.5" y2="255.2" stroke="#1c1c1c" stroke-width="1"/>
<text x="139.1" y="257.5" font-size="6.3" text-anchor="end" font-weight="bold" fill="#1c1c1c" style="stroke-width:0.3px">20,000</text>
<line x1="139.7" y1="267.6" x2="141.5" y2="267.6" stroke="#1c1c1c" stroke-width="1"/>
<text x="139.1" y="269.9" font-size="6.3" text-anchor="end" font-weight="bold" fill="#1c1c1c" style="stroke-width:0.3px">15,000</text>
<line x1="139.7" y1="280" x2="141.5" y2="280" stroke="#1c1c1c" stroke-width="1"/>
<text x="139.1" y="282.3" font-size="6.3" text-anchor="end" font-weight="bold" fill="#1c1c1c" style="stroke-width:0.3px">10,000</text>
<line x1="139.7" y1="292.7" x2="141.5" y2="292.7" stroke="#1c1c1c" stroke-width="1"/>
<text x="139.1" y="295" font-size="6.3" text-anchor="end" font-weight="bold" fill="#1c1c1c" style="stroke-width:0.3px">5000</text>
<line x1="139.7" y1="305.4" x2="141.5" y2="305.4" stroke="#1c1c1c" stroke-width="1"/>
<text x="139.1" y="307.7" font-size="6.3" text-anchor="end" font-weight="bold" fill="#1c1c1c" style="stroke-width:0.3px">0</text>
<rect x="153.6" y="284.5" width="21.2" height="21" fill="#000"/>
<line x1="164.2" y1="282.8" x2="164.2" y2="284.5" stroke="#1c1c1c" stroke-width="1"/>
<line x1="158.9" y1="282.8" x2="169.5" y2="282.8" stroke="#1c1c1c" stroke-width="1"/>
<line x1="164.2" y1="305.5" x2="164.2" y2="307.3" stroke="#1c1c1c" stroke-width="1"/>
<rect x="186.1" y="265.2" width="21.6" height="40.3" fill="#747474"/>
<line x1="196.9" y1="262.4" x2="196.9" y2="265.2" stroke="#1c1c1c" stroke-width="1"/>
<line x1="191.6" y1="262.4" x2="202.2" y2="262.4" stroke="#1c1c1c" stroke-width="1"/>
<line x1="196.9" y1="305.5" x2="196.9" y2="307.3" stroke="#1c1c1c" stroke-width="1"/>
<text x="167.3" y="311" font-size="6.5" text-anchor="end" font-weight="bold" fill="#1c1c1c" transform="rotate(-45 167.3 311)">DPP-4i –</text>
<text x="198.5" y="312.3" font-size="6.5" text-anchor="end" font-weight="bold" fill="#1c1c1c" transform="rotate(-45 198.5 312.3)">DPP-4i +</text>
<text x="119" y="317.6" font-size="6.5" text-anchor="start" font-weight="bold" fill="#1c1c1c" transform="rotate(-90 119 317.6)" textLength="12.6" lengthAdjust="spacingAndGlyphs">AUC</text>
<text x="119" y="239.2" font-size="6.5" text-anchor="end" font-weight="bold" fill="#1c1c1c" transform="rotate(-90 119 239.2)" textLength="40.5" lengthAdjust="spacingAndGlyphs">(pmol/L · min)</text>
<text x="120" y="292.35" font-size="4.4" text-anchor="middle" font-weight="bold" fill="#444" transform="rotate(-90 120 292.35)" textLength="21.7" lengthAdjust="spacingAndGlyphs" style="stroke:none">GIP (1-42)</text>
<polyline points="163.5,260.2 163.5,258.4 197.4,258.4 197.4,260.2" fill="none" stroke="#555" stroke-width="0.9"/>
<text x="180.5" y="259.3" font-size="8.5" text-anchor="middle" font-weight="bold" fill="#1c1c1c">***</text>
<line x1="385.5" y1="254.2" x2="385.5" y2="305.95" stroke="#1c1c1c" stroke-width="1"/>
<line x1="385.05" y1="305.5" x2="461.5" y2="305.5" stroke="#1c1c1c" stroke-width="1"/>
<line x1="383.7" y1="255.2" x2="385.5" y2="255.2" stroke="#1c1c1c" stroke-width="1"/>
<text x="383.1" y="257.5" font-size="6.3" text-anchor="end" font-weight="bold" fill="#1c1c1c" style="stroke-width:0.3px">20,000</text>
<line x1="383.7" y1="267.6" x2="385.5" y2="267.6" stroke="#1c1c1c" stroke-width="1"/>
<text x="383.1" y="269.9" font-size="6.3" text-anchor="end" font-weight="bold" fill="#1c1c1c" style="stroke-width:0.3px">15,000</text>
<line x1="383.7" y1="280" x2="385.5" y2="280" stroke="#1c1c1c" stroke-width="1"/>
<text x="383.1" y="282.3" font-size="6.3" text-anchor="end" font-weight="bold" fill="#1c1c1c" style="stroke-width:0.3px">10,000</text>
<line x1="383.7" y1="292.7" x2="385.5" y2="292.7" stroke="#1c1c1c" stroke-width="1"/>
<text x="383.1" y="295" font-size="6.3" text-anchor="end" font-weight="bold" fill="#1c1c1c" style="stroke-width:0.3px">5000</text>
<line x1="383.7" y1="305.4" x2="385.5" y2="305.4" stroke="#1c1c1c" stroke-width="1"/>
<text x="383.1" y="307.7" font-size="6.3" text-anchor="end" font-weight="bold" fill="#1c1c1c" style="stroke-width:0.3px">0</text>
<rect x="397" y="270.8" width="20.8" height="34.7" fill="#000"/>
<line x1="407.4" y1="266.5" x2="407.4" y2="270.8" stroke="#1c1c1c" stroke-width="1"/>
<line x1="402.1" y1="266.5" x2="412.7" y2="266.5" stroke="#1c1c1c" stroke-width="1"/>
<line x1="407.4" y1="305.5" x2="407.4" y2="307.3" stroke="#1c1c1c" stroke-width="1"/>
<rect x="428.9" y="276" width="21.7" height="29.5" fill="#747474"/>
<line x1="439.75" y1="273.3" x2="439.75" y2="276" stroke="#1c1c1c" stroke-width="1"/>
<line x1="434.45" y1="273.3" x2="445.05" y2="273.3" stroke="#1c1c1c" stroke-width="1"/>
<line x1="439.75" y1="305.5" x2="439.75" y2="307.3" stroke="#1c1c1c" stroke-width="1"/>
<text x="410.4" y="311.6" font-size="6.5" text-anchor="end" font-weight="bold" fill="#1c1c1c" transform="rotate(-45 410.4 311.6)">DPP-4i –</text>
<text x="441" y="313.2" font-size="6.5" text-anchor="end" font-weight="bold" fill="#1c1c1c" transform="rotate(-45 441 313.2)">DPP-4i +</text>
<text x="361.5" y="317" font-size="6.5" text-anchor="start" font-weight="bold" fill="#1c1c1c" transform="rotate(-90 361.5 317)" textLength="12.6" lengthAdjust="spacingAndGlyphs">AUC</text>
<text x="361.5" y="240.7" font-size="6.5" text-anchor="end" font-weight="bold" fill="#1c1c1c" transform="rotate(-90 361.5 240.7)" textLength="40.5" lengthAdjust="spacingAndGlyphs">(pmol/L · min)</text>
<text x="362.5" y="292.8" font-size="4.4" text-anchor="middle" font-weight="bold" fill="#444" transform="rotate(-90 362.5 292.8)" textLength="19.6" lengthAdjust="spacingAndGlyphs" style="stroke:none">total GIP</text>
<polyline points="406.8,260.2 406.8,258.4 439.9,258.4 439.9,260.2" fill="none" stroke="#555" stroke-width="0.9"/>
<text x="423.6" y="259" font-size="7.5" text-anchor="middle" font-weight="bold" fill="#1c1c1c">*</text>
<line x1="629.5" y1="253.3" x2="629.5" y2="306.95" stroke="#1c1c1c" stroke-width="1"/>
<line x1="629.05" y1="306.5" x2="709" y2="306.5" stroke="#1c1c1c" stroke-width="1"/>
<line x1="627.7" y1="254.7" x2="629.5" y2="254.7" stroke="#1c1c1c" stroke-width="1"/>
<text x="627.1" y="257" font-size="6.3" text-anchor="end" font-weight="bold" fill="#1c1c1c" style="stroke-width:0.3px">4000</text>
<line x1="627.7" y1="267.6" x2="629.5" y2="267.6" stroke="#1c1c1c" stroke-width="1"/>
<text x="627.1" y="269.9" font-size="6.3" text-anchor="end" font-weight="bold" fill="#1c1c1c" style="stroke-width:0.3px">3000</text>
<line x1="627.7" y1="280.5" x2="629.5" y2="280.5" stroke="#1c1c1c" stroke-width="1"/>
<text x="627.1" y="282.8" font-size="6.3" text-anchor="end" font-weight="bold" fill="#1c1c1c" style="stroke-width:0.3px">2000</text>
<line x1="627.7" y1="293.5" x2="629.5" y2="293.5" stroke="#1c1c1c" stroke-width="1"/>
<text x="627.1" y="295.8" font-size="6.3" text-anchor="end" font-weight="bold" fill="#1c1c1c" style="stroke-width:0.3px">1000</text>
<line x1="627.7" y1="306.5" x2="629.5" y2="306.5" stroke="#1c1c1c" stroke-width="1"/>
<text x="627.1" y="308.8" font-size="6.3" text-anchor="end" font-weight="bold" fill="#1c1c1c" style="stroke-width:0.3px">0</text>
<rect x="641.6" y="271.7" width="22.4" height="34.8" fill="#000"/>
<line x1="652.8" y1="262.5" x2="652.8" y2="271.7" stroke="#1c1c1c" stroke-width="1"/>
<line x1="647.5" y1="262.5" x2="658.1" y2="262.5" stroke="#1c1c1c" stroke-width="1"/>
<line x1="652.8" y1="306.5" x2="652.8" y2="308.3" stroke="#1c1c1c" stroke-width="1"/>
<rect x="675.2" y="281.7" width="22.2" height="24.8" fill="#747474"/>
<line x1="686.3" y1="278.7" x2="686.3" y2="281.7" stroke="#1c1c1c" stroke-width="1"/>
<line x1="681" y1="278.7" x2="691.6" y2="278.7" stroke="#1c1c1c" stroke-width="1"/>
<line x1="686.3" y1="306.5" x2="686.3" y2="308.3" stroke="#1c1c1c" stroke-width="1"/>
<text x="655.6" y="312.5" font-size="6.5" text-anchor="end" font-weight="bold" fill="#1c1c1c" transform="rotate(-45 655.6 312.5)">DPP-4i –</text>
<text x="687.9" y="313.7" font-size="6.5" text-anchor="end" font-weight="bold" fill="#1c1c1c" transform="rotate(-45 687.9 313.7)">DPP-4i +</text>
<text x="611.4" y="321.4" font-size="6.5" text-anchor="start" font-weight="bold" fill="#1c1c1c" transform="rotate(-90 611.4 321.4)" textLength="12.6" lengthAdjust="spacingAndGlyphs">AUC</text>
<text x="611.4" y="237" font-size="6.5" text-anchor="end" font-weight="bold" fill="#1c1c1c" transform="rotate(-90 611.4 237)" textLength="40.5" lengthAdjust="spacingAndGlyphs">(pmol/L · min)</text>
<text x="612.4" y="293.15" font-size="4.4" text-anchor="middle" font-weight="bold" fill="#444" transform="rotate(-90 612.4 293.15)" textLength="27.7" lengthAdjust="spacingAndGlyphs" style="stroke:none">total GLP-1</text>
</svg></body></html>
